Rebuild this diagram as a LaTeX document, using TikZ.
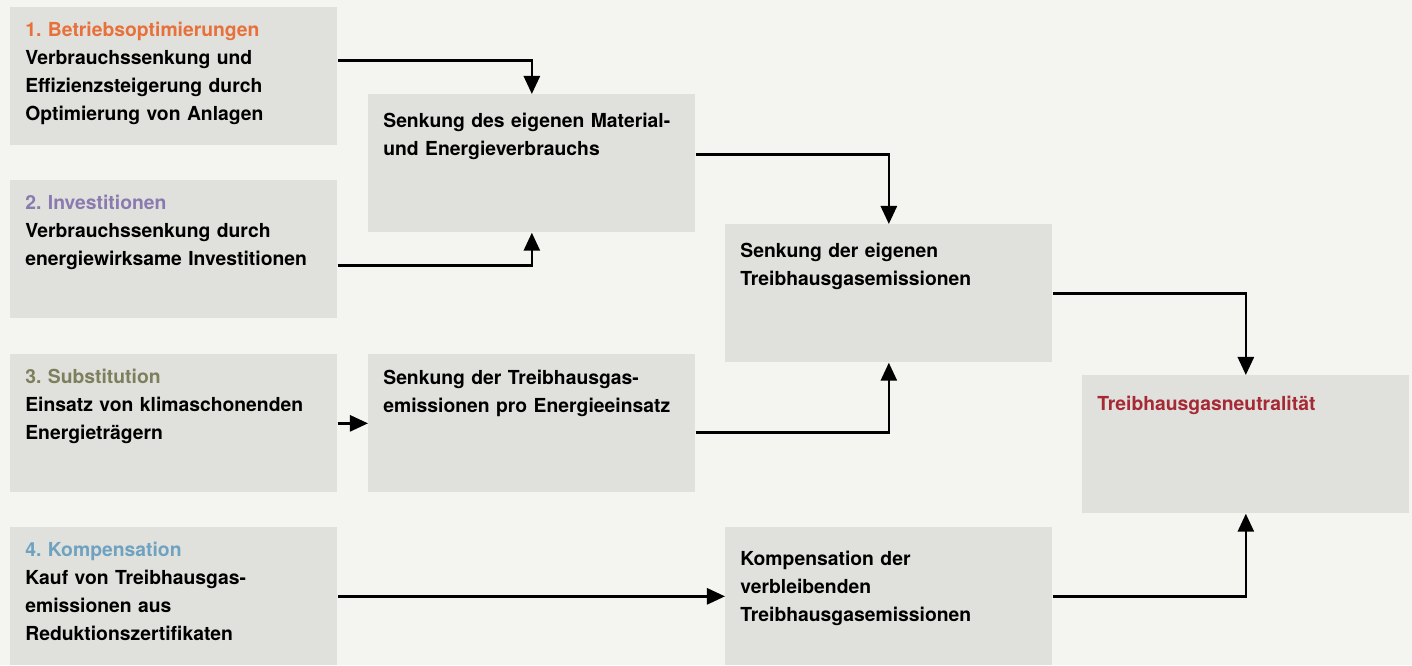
\documentclass[tikz,border=0pt]{standalone}
\usepackage{fontspec}
\setmainfont{TeX Gyre Heros}
\usetikzlibrary{arrows.meta,calc}
\definecolor{bggray}{HTML}{F4F5F0}
\definecolor{boxgray}{HTML}{E0E1DC}
\definecolor{optorange}{HTML}{E8703A}
\definecolor{invpurple}{HTML}{8B7AB0}
\definecolor{subolive}{HTML}{7E7F5C}
\definecolor{kompblue}{HTML}{6EA2C0}
\definecolor{neutralred}{HTML}{A52A35}
\frenchspacing
\begin{document}
\begin{tikzpicture}[scale=0.2,
    box/.style={fill=boxgray, anchor=north west, inner xsep=0.3cm, inner ysep=0pt,
      text width=5.94cm, align=left, font=\bfseries\fontsize{11}{15.9}\selectfont,
      text height=#1, text depth={2.76cm-#1}},
    box/.default=0.58cm,
    link/.style={line width=1.5pt, -{Triangle[width=0.32cm,length=0.36cm]}}]
    \fill [bggray] (0,0) rectangle (141.2,-66.5);
    \node [box] (b1) at (1.0,-0.7) {{\color{optorange}1. Betriebsoptimierungen}\\
        Verbrauchssenkung und\\ Effizienzsteigerung durch\\ Optimierung von Anlagen};
    \node [box] (b2) at (1.0,-18.0) {{\color{invpurple}2. Investitionen}\\
        Verbrauchssenkung durch\\ energiewirksame Investitionen};
    \node [box] (b3) at (1.0,-35.4) {{\color{subolive}3. Substitution}\\
        Einsatz von klimaschonenden\\ Energieträgern};
    \node [box] (b4) at (1.0,-52.7) {{\color{kompblue}4. Kompensation}\\
        Kauf von Treibhausgas-\\ emissionen aus\\ Reduktionszertifikaten};
    \node [box=0.66cm] (b5) at (36.8,-9.4) {Senkung des eigenen Material-\\ und Energieverbrauchs};
    \node [box=0.6cm] (b6) at (36.8,-35.4) {Senkung der Treibhausgas-\\ emissionen pro Energieeinsatz};
    \node [box=0.66cm] (b7) at (72.5,-22.4) {Senkung der eigenen\\ Treibhausgasemissionen};
    \node [box=0.76cm] (b8) at (72.5,-52.7) {Kompensation der\\ verbleibenden\\ Treibhausgasemissionen};
    \node [box=0.7cm] (b9) at (108.2,-37.5) {\color{neutralred}Treibhausgasneutralität};
    \draw [link] ($(b1.east)+(0,1.6)$) -| (b5.north);
    \draw [link] ($(b2.east)+(0,-1.6)$) -| (b5.south);
    \draw [link] (b3.east) -- (b6.west);
    \draw [link] ($(b5.east)+(0,0.9)$) -| (b7.north);
    \draw [link] ($(b6.east)+(0,-0.9)$) -| (b7.south);
    \draw [link] (b7.east) -| (b9.north);
    \draw [link] (b8.east) -| (b9.south);
    \draw [link] (b4.east) -- (b8.west);
\end{tikzpicture}
\end{document}
